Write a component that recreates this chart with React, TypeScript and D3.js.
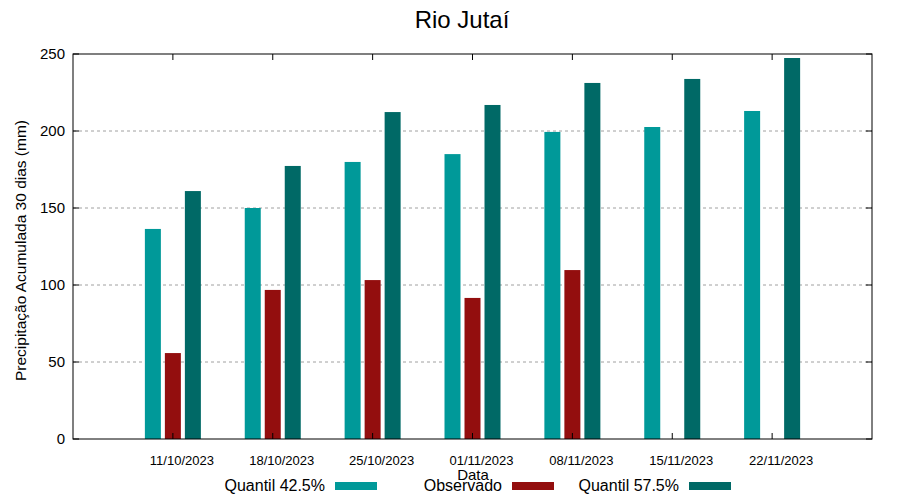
import React from "react";
import * as d3 from "d3";

const categories = ["11/10/2023", "18/10/2023", "25/10/2023", "01/11/2023", "08/11/2023", "15/11/2023", "22/11/2023"];
const quantil425 = [136.4, 150, 179.9, 185, 199.4, 202.6, 213];
const observado: (number | null)[] = [55.8, 96.8, 103.2, 91.6, 109.7, null, null];
const quantil575 = [161, 177.3, 212.3, 216.9, 231.2, 233.8, 247.4];
const yTicks = [0, 50, 100, 150, 200, 250];

const seriesNames = ["Quantil 42.5%", "Observado", "Quantil 57.5%"];
const seriesColors = ["#009999", "#930e0e", "#006966"];
const seriesData = [quantil425, observado, quantil575];

const W = 900;
const H = 500;
const left = 73;
const right = 872;
const top = 54;
const bottom = 439;
const font = "'Liberation Sans', Arial, sans-serif";

export default function App() {
  const x = d3.scaleLinear().domain([0, categories.length + 1]).range([left, right]);
  const y = d3.scaleLinear().domain([0, 250]).range([bottom, top]);
  const offset = d3
    .scaleBand<number>()
    .domain(seriesNames.map((_, i) => i))
    .range([-30, 30])
    .paddingInner(0.2)
    .paddingOuter(0.1);

  return (
    <svg width={W} height={H} style={{ position: "absolute", left: 0, top: 0 }} fontFamily={font}>
      <rect width={W} height={H} fill="#fff" />
      <text x={462} y={28} textAnchor="middle" fontSize={24}>Rio Jutaí</text>

      {/* grid */}
      {yTicks.filter((t) => t > 0 && t < 250).map((t) => (
        <line key={t} x1={left} x2={right} y1={y(t)} y2={y(t)} stroke="#a0a0a0" strokeWidth={1} strokeDasharray="3,3" />
      ))}

      {/* bars */}
      {seriesData.map((vals, s) =>
        vals.map((v, i) =>
          v == null ? null : (
            <rect
              key={`${s}-${i}`}
              x={x(i + 1) + (offset(s) ?? 0)}
              y={y(v)}
              width={offset.bandwidth()}
              height={y(0) - y(v)}
              fill={seriesColors[s]}
            />
          )
        )
      )}

      {/* frame */}
      <rect x={left} y={top} width={right - left} height={bottom - top} fill="none" stroke="#000" strokeWidth={1} />

      {/* y ticks */}
      {yTicks.map((t) => (
        <g key={t}>
          <line x1={left} x2={left + 6} y1={y(t)} y2={y(t)} stroke="#000" />
          <line x1={right - 6} x2={right} y1={y(t)} y2={y(t)} stroke="#000" />
          <text x={65} y={y(t) + 5} textAnchor="end" fontSize={15}>{t}</text>
        </g>
      ))}

      {/* x ticks */}
      {categories.map((c, i) => (
        <g key={c}>
          <line x1={x(i + 1)} x2={x(i + 1)} y1={top} y2={top + 6} stroke="#000" />
          <line x1={x(i + 1)} x2={x(i + 1)} y1={bottom} y2={bottom - 6} stroke="#000" />
          <text x={x(i + 1) + 9} y={465} textAnchor="middle" fontSize={13}>{c}</text>
        </g>
      ))}

      <text x={473} y={480} textAnchor="middle" fontSize={15}>Data</text>
      <text transform={`translate(26,${(top + bottom) / 2 + 4}) rotate(-90)`} textAnchor="middle" fontSize={15.5}>
        Precipitação Acumulada 30 dias (mm)
      </text>

      {/* legend */}
      {seriesNames.map((n, s) => {
        const sx = 335 + s * 177;
        return (
          <g key={n}>
            <text x={sx - 10} y={491} textAnchor="end" fontSize={16}>{n}</text>
            <rect x={sx} y={482} width={42} height={8} fill={seriesColors[s]} />
          </g>
        );
      })}
    </svg>
  );
}
